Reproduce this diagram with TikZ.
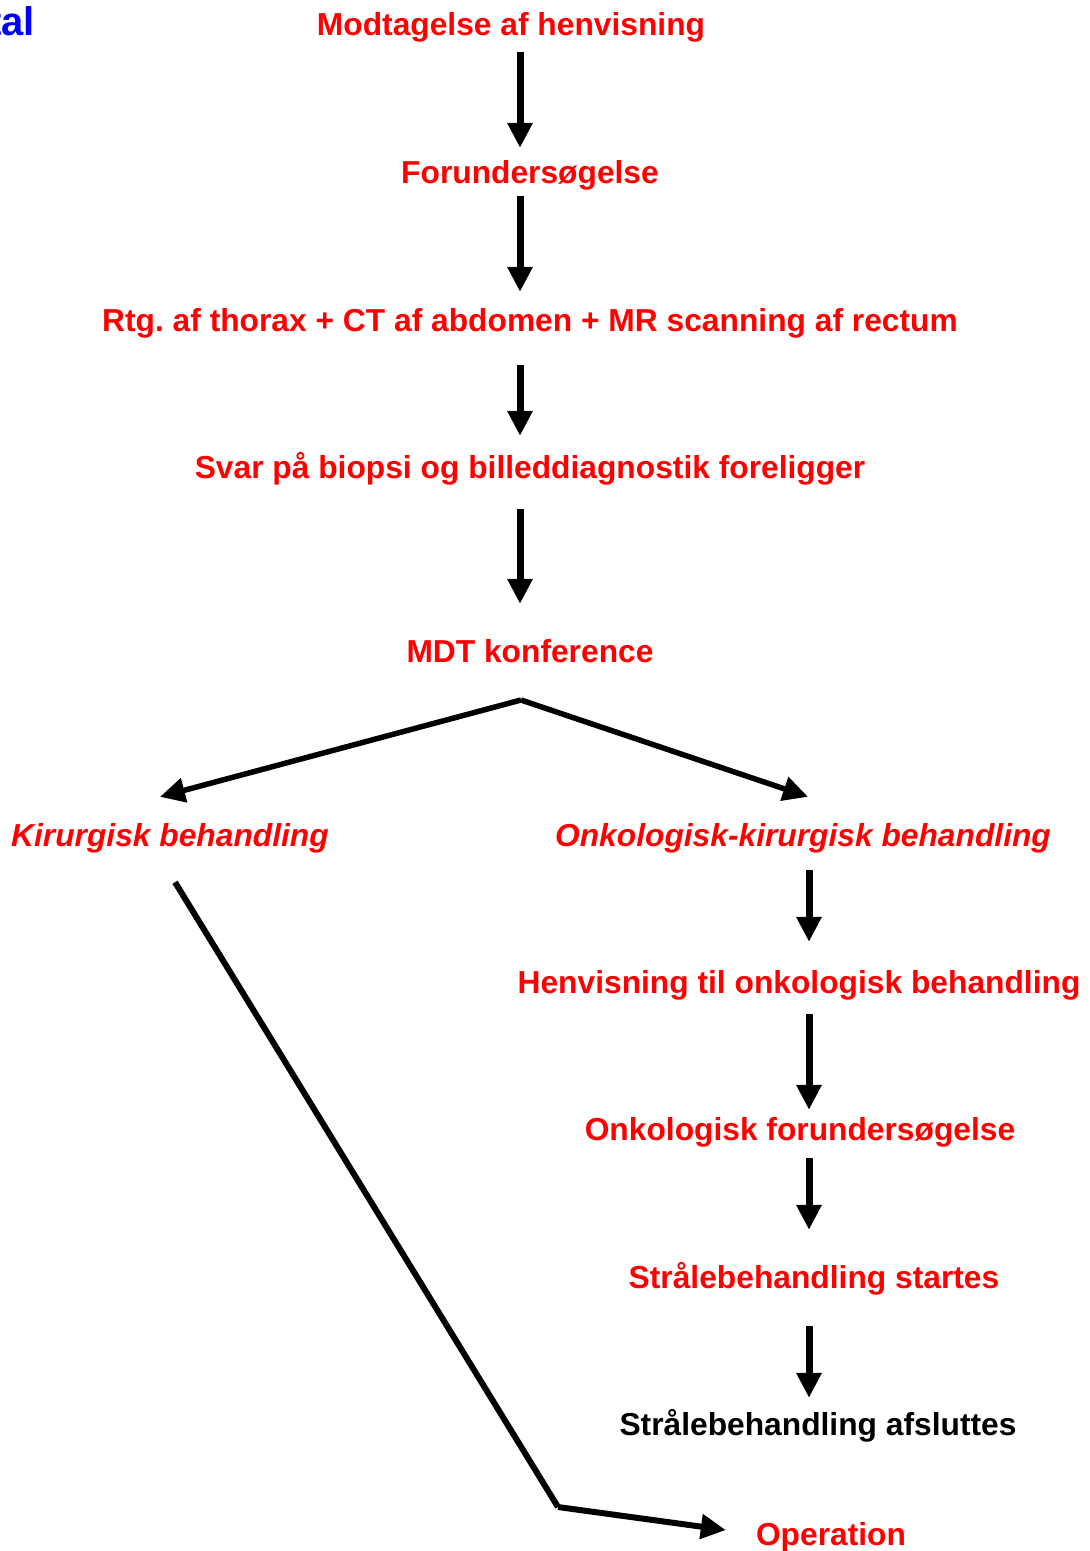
\documentclass[tikz,border=0pt]{standalone}
\usepackage{fontspec}
\setmainfont{Liberation Sans}
\usetikzlibrary{arrows.meta}
\definecolor{tred}{RGB}{255,0,0}
\definecolor{tblue}{RGB}{0,0,255}
\frenchspacing
\tikzset{
  lbl/.style={inner sep=0pt, text height=23pt, text depth=7pt, anchor=center,
    font=\fontsize{31.75}{36}\selectfont\bfseries, text=tred},
  ital/.style={font=\fontsize{31.75}{36}\selectfont\bfseries\itshape},
  arr/.style={line width=7pt, -{Triangle[width=24pt,length=25pt]}},
  arrb/.style={line width=5.5pt, -{Triangle[width=24pt,length=25pt]}},
  plain/.style={line width=6pt, line join=miter}
}
\begin{document}
\begin{tikzpicture}[x=1pt,y=-1pt]
\useasboundingbox (0,0) rectangle (1090,1551);
\clip (0,0) rectangle (1090,1551);
\node[inner sep=0pt, anchor=base east, font=\fontsize{40}{44}\selectfont\bfseries, text=tblue] (hdr) at (35,35) {tal};
\coordinate (c1) at (520,0);
\coordinate (c2) at (809,0);
\node[lbl] (a) at (511,27) {Modtagelse af henvisning};
\node[lbl] (b) at (530,175) {Forundersøgelse};
\node[lbl] (c) at (530,323) {Rtg. af thorax + CT af abdomen + MR scanning af rectum};
\node[lbl] (d) at (530,470) {Svar på biopsi og billeddiagnostik foreligger};
\node[lbl] (e) at (530,654) {MDT konference};
\node[lbl,ital] (f) at (170,838) {Kirurgisk behandling};
\node[lbl,ital] (g) at (803,838) {Onkologisk-kirurgisk behandling};
\node[lbl] (h) at (799,985) {Henvisning til onkologisk behandling};
\node[lbl] (i) at (800,1132) {Onkologisk forundersøgelse};
\node[lbl] (j) at (814,1280) {Strålebehandling startes};
\node[lbl, text=black] (k) at (818,1427) {Strålebehandling afsluttes};
\node[lbl] (l) at (831,1537) {Operation};
% vertical arrows
\draw[arr] ([yshift=-10pt]a.south -| c1) -- ([yshift=12pt]b.north -| c1);
\draw[arr] ([yshift=-6pt]b.south -| c1) -- ([yshift=16pt]c.north -| c1);
\draw[arr] ([yshift=-27pt]c.south -| c1) -- ([yshift=19pt]d.north -| c1);
\draw[arr] ([yshift=-24pt]d.south -| c1) -- ([yshift=35pt]e.north -| c1);
\draw[arr] ([yshift=-17pt]g.south -| c2) -- ([yshift=28pt]h.north -| c2);
\draw[arr] ([yshift=-14pt]h.south -| c2) -- ([yshift=7pt]i.north -| c2);
\draw[arr] ([yshift=-11pt]i.south -| c2) -- ([yshift=35pt]j.north -| c2);
\draw[arr] ([yshift=-31pt]j.south -| c2) -- ([yshift=14pt]k.north -| c2);
% branch
\coordinate (apex) at (521,700);
\draw[arrb] (apex) -- ([xshift=-10pt,yshift=26pt]f.north);
\draw[arrb] (apex) -- ([xshift=5pt,yshift=26pt]g.north);
% long path to operation
\coordinate (bend) at (558,1507);
\draw[plain] ([xshift=5pt,yshift=-29pt]f.south) -- (bend);
\draw[arr, line width=6pt] (bend) -- ([xshift=-30pt,yshift=7pt]l.west);
\end{tikzpicture}
\end{document}
